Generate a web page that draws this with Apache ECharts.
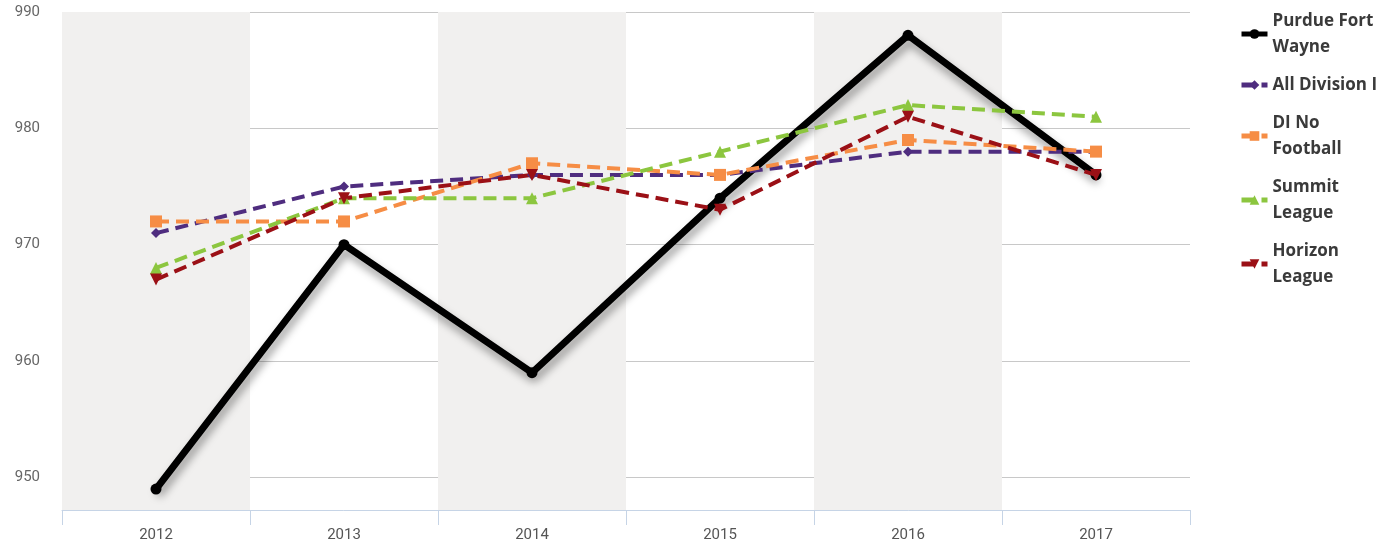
<!DOCTYPE html>
<html>
<head>
<meta charset="utf-8">
<script src="https://cdn.jsdelivr.net/npm/echarts@6/dist/echarts.min.js"></script>
<style>
  html, body { margin: 0; padding: 0; background: #fff; }
  #chart { width: 1398px; height: 546px; }
</style>
</head>
<body>
<div id="chart"></div>
<script>
let years = ['2012', '2013', '2014', '2015', '2016', '2017'];
let yTicks = [950, 960, 970, 980, 990];
let purdueFortWayne = [949, 970, 959, 974, 988, 976];
let allDivisionI = [971, 975, 976, 976, 978, 978];
let diNoFootball = [972, 972, 977, 976, 979, 978];
let summitLeague = [968, 974, 974, 978, 982, 981];
let horizonLeague = [967, 974, 976, 973, 981, 976];

let legendFont = '"Open Sans", Lato, sans-serif';
let axisFont = 'Roboto, "Open Sans", sans-serif';

function dashedSeries(name, data, color, symbol, symbolSize, rotate) {
    return {
        name: name,
        type: 'line',
        data: data,
        symbol: symbol,
        symbolSize: symbolSize,
        symbolRotate: rotate || 0,
        lineStyle: {
            width: 4,
            color: color,
            type: [13, 7]
        },
        itemStyle: {
            color: color
        },
        z: 3
    };
}

let chart = echarts.init(document.getElementById('chart'));
let option = {
    animation: false,
    grid: {
        left: 62,
        right: 208,
        top: 12,
        bottom: 36
    },
    legend: {
        orient: 'vertical',
        left: 1234,
        top: 3,
        itemWidth: 26,
        itemHeight: 12,
        itemGap: 12,
        lineStyle: { width: 5 },
        data: ['Purdue Fort Wayne', 'All Division I', 'DI No Football', 'Summit League', 'Horizon League'],
        formatter: function (name) {
            let wrapped = {
                'Purdue Fort Wayne': 'Purdue Fort\nWayne',
                'DI No Football': 'DI No\nFootball',
                'Summit League': 'Summit\nLeague',
                'Horizon League': 'Horizon\nLeague'
            };
            return wrapped[name] || name;
        },
        textStyle: {
            fontFamily: legendFont,
            fontSize: 17,
            fontWeight: 'bold',
            color: '#3a3a3a',
            lineHeight: 26
        }
    },
    xAxis: {
        type: 'category',
        data: years,
        boundaryGap: true,
        axisLine: {
            lineStyle: { color: '#c6d4e6', width: 1 }
        },
        axisTick: {
            show: true,
            length: 15,
            lineStyle: { color: '#c6d4e6' }
        },
        axisLabel: {
            margin: 18,
            fontFamily: axisFont,
            fontSize: 15,
            color: '#555'
        },
        splitArea: {
            show: true,
            areaStyle: {
                color: ['#f1f0ef', 'rgba(255,255,255,0)']
            }
        }
    },
    yAxis: {
        type: 'value',
        min: 947.2,
        max: 990,
        axisLine: { show: false },
        axisTick: { show: false, customValues: yTicks },
        axisLabel: {
            customValues: yTicks,
            margin: 22,
            fontFamily: axisFont,
            fontSize: 15,
            color: '#666'
        },
        splitLine: {
            show: true,
            lineStyle: { color: '#c8c8c8', width: 1 }
        }
    },
    series: [
        {
            name: 'Purdue Fort Wayne',
            type: 'line',
            data: purdueFortWayne,
            symbol: 'circle',
            symbolSize: 11,
            lineStyle: {
                width: 7,
                color: '#000',
                shadowColor: 'rgba(0,0,0,0.4)',
                shadowBlur: 8,
                shadowOffsetX: 2,
                shadowOffsetY: 6
            },
            itemStyle: {
                color: '#000'
            },
            z: 2
        },
        dashedSeries('All Division I', allDivisionI, '#4f2d7f', 'diamond', 10),
        dashedSeries('DI No Football', diNoFootball, '#f68d45', 'rect', 12),
        dashedSeries('Summit League', summitLeague, '#8cc63f', 'triangle', 12),
        dashedSeries('Horizon League', horizonLeague, '#9b1016', 'triangle', 12, 180)
    ]
};
chart.setOption(option);
</script>
</body>
</html>
